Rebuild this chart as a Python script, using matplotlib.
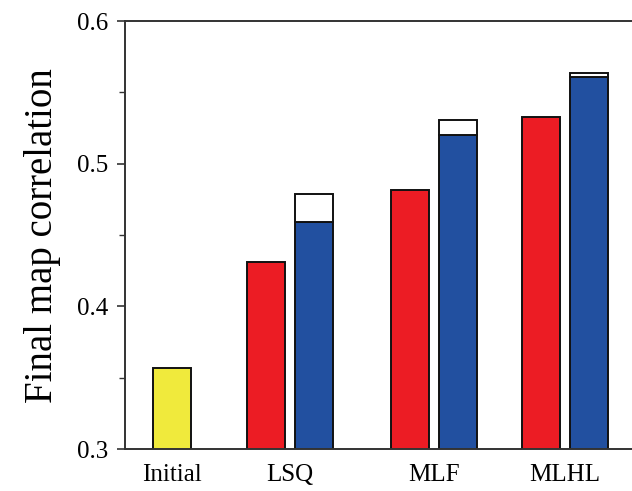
import matplotlib.pyplot as plt
from matplotlib.ticker import MultipleLocator

# values
categories = ["Initial", "LSQ", "MLF", "MLHL"]
initial_value = 0.357
red_values = [0.431, 0.4815, 0.533]      # LSQ, MLF, MLHL
blue_values = [0.459, 0.520, 0.561]
white_tops = [0.479, 0.531, 0.5635]     # open box above the blue bars

plt.rcParams["font.family"] = ["Liberation Serif", "DejaVu Serif"]

# group centres (uneven spacing as in the reference)
group_pos = [0.0, 0.9, 2.0, 3.0]
width = 0.29
offset = 0.183

fig = plt.figure(figsize=(6.32, 4.91), dpi=100)
ax = fig.add_axes([0.198, 0.0855, 0.802, 0.8715])

edge = dict(edgecolor="#111111", linewidth=1.4)
ax.bar(group_pos[0], initial_value, width, color="#F0EA3C", **edge)

red_x = [p - offset for p in group_pos[1:]]
blue_x = [p + offset for p in group_pos[1:]]
ax.bar(red_x, red_values, width, color="#EC1C24", **edge)
ax.bar(blue_x, blue_values, width, color="#2250A0", **edge)
extra = [t - b for t, b in zip(white_tops, blue_values)]
ax.bar(blue_x, extra, width, bottom=blue_values, color="white", **edge)

ax.set_ylim(0.3, 0.6)
ax.set_xlim(-0.36, 3.51)
ax.yaxis.set_major_locator(MultipleLocator(0.1))
ax.yaxis.set_minor_locator(MultipleLocator(0.05))
ax.yaxis.set_major_formatter(plt.FuncFormatter(lambda v, p: f"{v:.1f}"))
ax.tick_params(axis="y", which="major", direction="out", length=6, width=1.2,
               labelsize=18, pad=6, color="#333333")
ax.tick_params(axis="y", which="minor", direction="out", length=4, width=1.0,
               color="#333333")
ax.set_xticks(group_pos)
ax.set_xticklabels(categories)
ax.tick_params(axis="x", length=0, labelsize=18, pad=11)

ax.spines["right"].set_visible(False)
for s in ["left", "top", "bottom"]:
    ax.spines[s].set_linewidth(1.4)
    ax.spines[s].set_color("#333333")

ax.set_ylabel("Final map correlation", fontsize=28, labelpad=12)

fig.savefig("out.png", dpi=100)
